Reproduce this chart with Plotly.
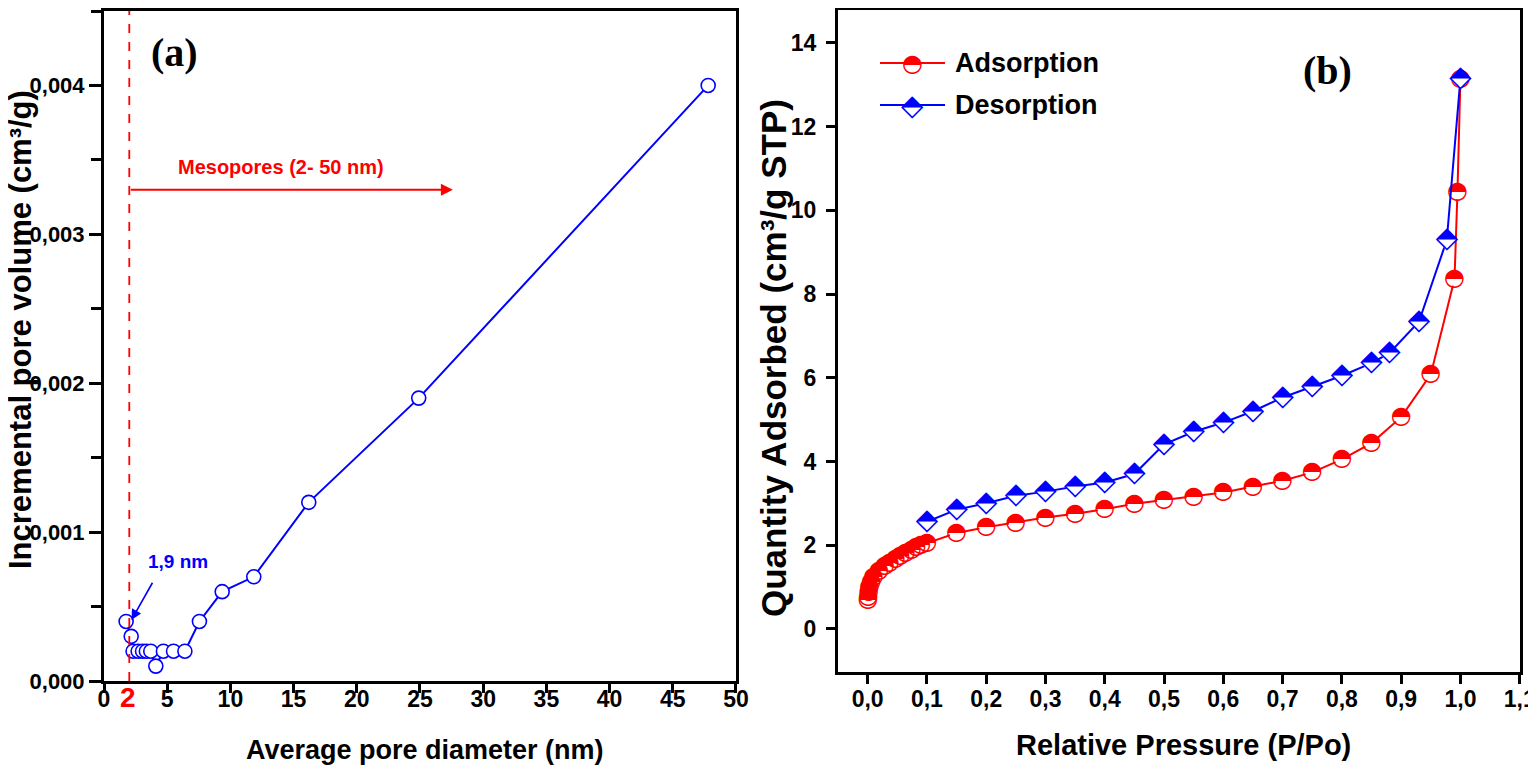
import plotly.graph_objects as go

# (a) pore size distribution
diam_nm = [1.75, 2.15, 2.3, 2.7, 3.05, 3.35, 3.7, 4.1, 4.7, 5.5, 6.4, 7.55, 9.35, 11.85, 16.2, 24.9, 47.8]
pore_vol = [0.0004, 0.0003, 0.0002, 0.0002, 0.0002, 0.0002, 0.0002, 0.0001, 0.0002, 0.0002, 0.0002,
            0.0004, 0.0006, 0.0007, 0.0012, 0.0019, 0.0040]

# (b) N2 isotherm
p_ads = [0.0005, 0.001, 0.002, 0.003, 0.006, 0.01, 0.019, 0.029, 0.037, 0.047, 0.055, 0.064, 0.074,
         0.082, 0.09, 0.1, 0.15, 0.2, 0.25, 0.3, 0.35, 0.4, 0.45, 0.5, 0.55, 0.6, 0.65, 0.7, 0.75,
         0.8, 0.85, 0.9, 0.95, 0.99, 0.995, 1.0]
q_ads = [0.68, 0.77, 0.89, 1.01, 1.13, 1.25, 1.39, 1.5, 1.58, 1.66, 1.75, 1.82, 1.89, 1.95, 2.0,
         2.05, 2.29, 2.43, 2.54, 2.66, 2.75, 2.86, 2.99, 3.08, 3.16, 3.26, 3.40, 3.54, 3.74, 4.05,
         4.44, 5.06, 6.08, 8.36, 10.43, 13.15]
p_des = [0.1, 0.15, 0.2, 0.25, 0.3, 0.35, 0.4, 0.45, 0.5, 0.55, 0.6, 0.65, 0.7, 0.75, 0.8, 0.85,
         0.88, 0.93, 0.977, 1.0]
q_des = [2.56, 2.85, 3.0, 3.18, 3.28, 3.40, 3.50, 3.70, 4.41, 4.71, 4.93, 5.2, 5.53, 5.79, 6.05,
         6.35, 6.59, 7.34, 9.29, 13.15]

ticks_a_x = [0, 5, 10, 15, 20, 25, 30, 35, 40, 45, 50]
ticks_a_y = [0.0, 0.001, 0.002, 0.003, 0.004]
ticks_b_x = [0.0, 0.1, 0.2, 0.3, 0.4, 0.5, 0.6, 0.7, 0.8, 0.9, 1.0, 1.1]
ticks_b_y = [0, 2, 4, 6, 8, 10, 12, 14]

RED = "#ff0000"
BLUE = "#0000ff"
SANS = "Liberation Sans, Arial"
SERIF = "Liberation Serif, Times New Roman"
GLYPH = "DejaVu Sans"
HALF_CIRCLE = "\u25d3"
HALF_DIAMOND = "\u2b18"
CIRCLE_PX = 24
DIAMOND_PX = 29

# the page body adds an 8 px margin, so the figure starts 8 px in from the window corner
W, H, PAD = 1528, 758, 8


def px(xs):
    return (xs - PAD) / W


def py(ys):
    return (H + PAD - ys) / H


fig = go.Figure()

fig.add_trace(go.Scatter(
    x=diam_nm, y=pore_vol, mode="lines+markers", xaxis="x", yaxis="y",
    line=dict(color=BLUE, width=2),
    marker=dict(symbol="circle", size=14, color="white", line=dict(color=BLUE, width=1.6)),
    showlegend=False))

fig.add_trace(go.Scatter(
    x=p_ads, y=q_ads, mode="lines+markers+text", xaxis="x2", yaxis="y2",
    line=dict(color=RED, width=2),
    marker=dict(symbol="circle", size=14, color="white", line=dict(width=0)),
    text=[HALF_CIRCLE] * len(p_ads), textposition="middle center",
    textfont=dict(family=GLYPH, size=CIRCLE_PX, color=RED),
    showlegend=False))

fig.add_trace(go.Scatter(
    x=p_des, y=q_des, mode="lines+markers+text", xaxis="x2", yaxis="y2",
    line=dict(color=BLUE, width=2),
    marker=dict(symbol="diamond", size=16, color="white", line=dict(width=0)),
    text=[HALF_DIAMOND] * len(p_des), textposition="middle center",
    textfont=dict(family=GLYPH, size=DIAMOND_PX, color=BLUE),
    showlegend=False))

axis_common = dict(showline=True, linecolor="black", linewidth=3, mirror=True,
                   ticks="outside", tickwidth=2.5, tickcolor="black",
                   showgrid=False, zeroline=False, automargin=False, ticklabeloverflow="allow")

fig.update_layout(
    width=W, height=H,
    margin=dict(l=0, r=0, t=0, b=0),
    paper_bgcolor="white", plot_bgcolor="white",
    separators=",.",
    xaxis=dict(domain=[px(104), px(736)], range=[0, 50.001], tickvals=ticks_a_x,
               ticklen=9, ticklabelstandoff=-14,
               tickfont=dict(family=SANS, size=23, color="black", weight="bold"),
               anchor="y", **axis_common),
    yaxis=dict(domain=[py(681), py(11)], range=[0, 0.0045], tickvals=ticks_a_y,
               tickformat=".3f", ticklen=12,
               tickfont=dict(family=SANS, size=22, color="black", weight="bold"),
               minor=dict(dtick=0.0005, ticks="outside", ticklen=10, tickwidth=2.5, tickcolor="black"),
               anchor="x", **axis_common),
    xaxis2=dict(domain=[px(838), px(1520)], range=[-0.05, 1.1005], tickvals=ticks_b_x,
                tickformat=".1f", ticklen=9, ticklabelstandoff=-5,
                tickfont=dict(family=SANS, size=23, color="black", weight="bold"),
                anchor="y2", **axis_common),
    yaxis2=dict(domain=[py(672), py(9.5)], range=[-1.03, 14.8], tickvals=ticks_b_y,
                ticklen=9, ticklabelstandoff=5,
                tickfont=dict(family=SANS, size=23, color="black", weight="bold"),
                anchor="x2", **axis_common),
)

# dashed line at 2 nm and the mesopore arrow
fig.add_shape(type="line", xref="x", yref="y domain", x0=2, x1=2, y0=0, y1=1,
              line=dict(color=RED, width=1.8, dash="dash"))
fig.add_annotation(xref="x", yref="y", x=27.6, y=0.0033, ax=2, ay=0.0033, axref="x", ayref="y",
                   text="", showarrow=True, arrowhead=2, arrowsize=1.2, arrowwidth=2, arrowcolor=RED)

annotations = [
    dict(xref="x", yref="y", x=14.0, y=0.00345, text="Mesopores (2- 50 nm)",
         font=dict(family=SANS, size=20, color=RED, weight="bold")),
    dict(xref="x", yref="y", x=5.6, y=0.00422, text="(a)",
         font=dict(family=SERIF, size=40, color="black", weight="bold")),
    dict(xref="x", yref="y", x=5.85, y=0.0008, text="1,9 nm",
         font=dict(family=SANS, size=19, color=BLUE, weight="bold")),
    dict(xref="x", yref="paper", x=1.9, y=py(697), text="2",
         font=dict(family=SANS, size=28, color=RED, weight="bold")),
    dict(xref="paper", yref="paper", x=px(425), y=py(750),
         text="Average pore diameter (nm)",
         font=dict(family=SANS, size=27, color="black", weight="bold")),
    dict(xref="paper", yref="paper", x=px(20), y=py(330), textangle=-90,
         text="Incremental pore volume (cm³/g)",
         font=dict(family=SANS, size=31, color="black", weight="bold")),
    dict(xref="x2", yref="y2", x=0.775, y=13.35, text="(b)",
         font=dict(family=SERIF, size=40, color="black", weight="bold")),
    dict(xref="paper", yref="paper", x=px(1183), y=py(745),
         text="Relative Pressure (P/Po)",
         font=dict(family=SANS, size=29, color="black", weight="bold")),
    dict(xref="paper", yref="paper", x=px(774), y=py(358), textangle=-90,
         text="Quantity Adsorbed (cm³/g STP)",
         font=dict(family=SANS, size=35, color="black", weight="bold")),
]
for a in annotations:
    fig.add_annotation(showarrow=False, xanchor="center", yanchor="middle", **a)

fig.add_annotation(xref="x", yref="y", x=2.17, y=0.00041, ax=3.9, ay=0.00067, axref="x", ayref="y",
                   text="", showarrow=True, arrowhead=2, arrowsize=1.3, arrowwidth=1.6, arrowcolor=BLUE)

# legend drawn by hand so the half-filled symbols show
legend_items = [("Adsorption", RED, HALF_CIRCLE, CIRCLE_PX, py(63)),
                ("Desorption", BLUE, HALF_DIAMOND, DIAMOND_PX, py(105))]
for name, col, glyph, gsize, ly in legend_items:
    fig.add_shape(type="line", xref="paper", yref="paper", x0=px(880), x1=px(945),
                  y0=ly, y1=ly, line=dict(color=col, width=2))
    fig.add_annotation(xref="paper", yref="paper", x=px(912), y=ly, text=glyph, showarrow=False,
                       xanchor="center", yanchor="middle", bgcolor="rgba(0,0,0,0)",
                       font=dict(family=GLYPH, size=gsize, color=col))
    fig.add_annotation(xref="paper", yref="paper", x=px(953), y=ly, text=name, showarrow=False,
                       xanchor="left", yanchor="middle",
                       font=dict(family=SANS, size=27, color="black", weight="bold"))

fig.write_html("out.html")
